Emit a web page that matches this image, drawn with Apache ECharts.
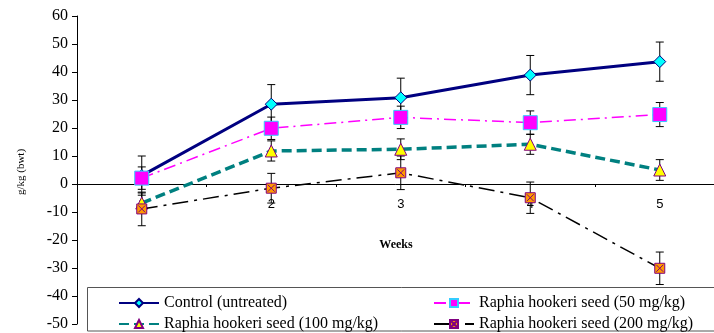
<!DOCTYPE html>
<html>
<head>
<meta charset="utf-8">
<script src="https://cdn.jsdelivr.net/npm/echarts@6/dist/echarts.min.js"></script>
<style>
html, body { margin: 0; padding: 0; background: #fff; }
#main { width: 714px; height: 333px; }
</style>
</head>
<body>
<div id="main"></div>
<script>
var weeks = ['1', '2', '3', '4', '5'];
var yTicks = { min: -50, max: 60, step: 10 };

var control = [3, 28.5, 30.8, 38.9, 43.7];
var controlErr = [7, 7, 7, 7, 7];
var dose50 = [2.1, 19.9, 23.8, 21.9, 24.8];
var dose50Err = [4, 4, 4, 4.2, 4.3];
var dose100 = [-6.8, 11.8, 12.4, 14.2, 5.0];
var dose100Err = [3.6, 3.6, 3.7, 3.6, 3.7];
var dose200 = [-8.9, -1.5, 4.0, -4.9, -30.1];
var dose200Err = [6, 5.3, 6, 5.6, 5.8];

var names = [
  'Control (untreated)',
  'Raphia hookeri seed (50 mg/kg)',
  'Raphia hookeri seed (100 mg/kg)',
  'Raphia hookeri seed (200 mg/kg)'
];

var serif = 'Liberation Serif, Times New Roman, serif';

function errData(vals, errs) {
  return vals.map(function (v, i) { return [i, v - errs[i], v + errs[i]]; });
}

function errSeries(vals, errs) {
  return {
    type: 'custom',
    silent: true,
    z: 1,
    data: errData(vals, errs),
    renderItem: function (params, api) {
      var lo = api.coord([api.value(0), api.value(1)]);
      var hi = api.coord([api.value(0), api.value(2)]);
      var w = 4;
      var st = { stroke: '#000', lineWidth: 1 };
      return {
        type: 'group',
        children: [
          { type: 'line', shape: { x1: hi[0], y1: hi[1], x2: lo[0], y2: lo[1] }, style: st },
          { type: 'line', shape: { x1: hi[0] - w, y1: hi[1], x2: hi[0] + w, y2: hi[1] }, style: st },
          { type: 'line', shape: { x1: lo[0] - w, y1: lo[1], x2: lo[0] + w, y2: lo[1] }, style: st }
        ]
      };
    }
  };
}

// one legend per entry so the 2x2 layout stays put
var legendPos = [[113, 290], [428, 290], [113, 311], [428, 311]];
var legends = names.map(function (n, i) {
  return {
    data: [n],
    left: legendPos[i][0],
    top: legendPos[i][1],
    itemWidth: 40,
    itemHeight: 10,
    itemGap: 4,
    z: 20,
    textStyle: { fontFamily: serif, fontSize: 16, color: '#000' }
  };
});

var chart = echarts.init(document.getElementById('main'));

// grid: top 16, height 308 -> zero line sits 140px above the grid bottom
var option = {
  backgroundColor: '#fff',
  animation: false,
  grid: {
    left: 77,
    right: -10.5,
    top: 16,
    bottom: 9,
    outerBoundsMode: 'none'
  },
  xAxis: {
    type: 'category',
    data: weeks,
    boundaryGap: true,
    position: 'bottom',
    offset: -140,
    axisLine: { onZero: false, lineStyle: { color: '#000', width: 1 } },
    axisTick: { show: true, length: 3, lineStyle: { color: '#000' } },
    axisLabel: {
      show: true,
      interval: 0,
      color: '#000',
      fontFamily: 'Liberation Sans, Arial, sans-serif',
      fontSize: 13,
      margin: 14
    },
    splitLine: { show: false }
  },
  yAxis: {
    type: 'value',
    min: yTicks.min,
    max: yTicks.max,
    interval: yTicks.step,
    axisLine: { show: true, lineStyle: { color: '#000', width: 1 } },
    axisTick: { show: true, length: 5, lineStyle: { color: '#000' } },
    axisLabel: {
      color: '#000',
      fontFamily: serif,
      fontSize: 16,
      margin: 9
    },
    splitLine: { show: false }
  },
  legend: legends,
  graphic: [
    {
      type: 'rect',
      z: 15,
      shape: { x: 87.5, y: 287.5, width: 640, height: 43.5 },
      style: { fill: '#fff', stroke: '#555', lineWidth: 1 }
    },
    {
      type: 'text',
      x: 21,
      y: 172,
      rotation: Math.PI / 2,
      style: {
        text: 'g/kg (bwt)',
        font: '11px ' + serif,
        fill: '#000',
        align: 'center',
        verticalAlign: 'middle'
      }
    },
    {
      type: 'text',
      x: 396,
      y: 245,
      style: {
        text: 'Weeks',
        font: 'bold 12px ' + serif,
        fill: '#000',
        align: 'center',
        verticalAlign: 'middle'
      }
    }
  ],
  series: [
    errSeries(control, controlErr),
    errSeries(dose50, dose50Err),
    errSeries(dose100, dose100Err),
    errSeries(dose200, dose200Err),
    {
      name: names[0],
      type: 'line',
      data: control,
      z: 3,
      symbol: 'diamond',
      symbolSize: 12,
      lineStyle: { color: '#000080', width: 3 },
      itemStyle: { color: '#00FFFF', borderColor: '#000080', borderWidth: 1 }
    },
    {
      name: names[1],
      type: 'line',
      data: dose50,
      z: 4,
      symbol: 'rect',
      symbolSize: 14,
      lineStyle: { color: '#FF00FF', width: 1.5, type: [12, 5, 2, 5] },
      itemStyle: { color: '#FF00FF', borderColor: '#33CCFF', borderWidth: 1 }
    },
    {
      name: names[2],
      type: 'line',
      data: dose100,
      z: 5,
      symbol: 'triangle',
      symbolSize: 12,
      lineStyle: { color: '#008080', width: 3.5, type: [10, 5] },
      itemStyle: { color: '#FFFF00', borderColor: '#800080', borderWidth: 1 }
    },
    {
      name: names[3],
      type: 'line',
      data: dose200,
      z: 6,
      symbol: 'path://M0,0 L10,0 L10,10 L0,10 Z M1.5,1.5 L8.5,8.5 M8.5,1.5 L1.5,8.5',
      symbolSize: 10,
      lineStyle: { color: '#000', width: 1.5, type: [16, 6, 3, 6] },
      itemStyle: { color: '#FF9900', borderColor: '#800080', borderWidth: 1 }
    }
  ]
};

chart.setOption(option);
</script>
</body>
</html>
